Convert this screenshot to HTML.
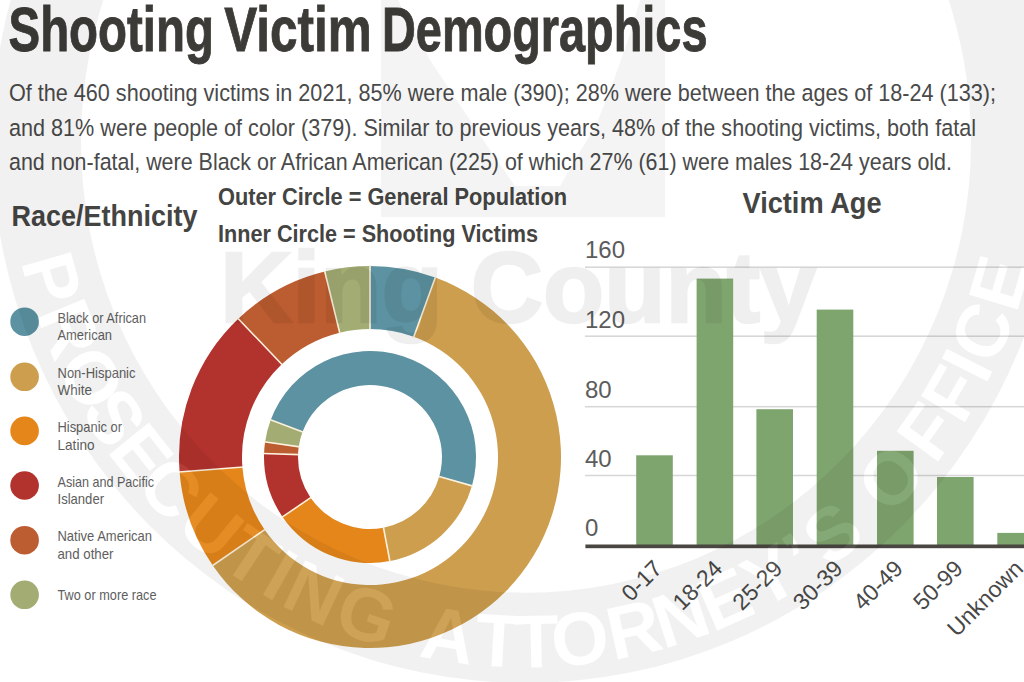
<!DOCTYPE html>
<html><head><meta charset="utf-8"><style>
html,body{margin:0;padding:0;background:#fff;width:1024px;height:682px;overflow:hidden}
svg{display:block}
text{font-family:"Liberation Sans",sans-serif}
.t{font-weight:bold;fill:#3c3b38;stroke:#3c3b38;stroke-width:0.9px}
.p{fill:#4a4a4a;font-size:24.5px}
.h{font-weight:bold;fill:#444442}
.ax{fill:#5c5c5c;font-size:24px}
.xl{fill:#484848;font-size:23px}
.lg{fill:#5e5e5e;font-size:14.6px}
</style></head><body>
<svg width="1024" height="682" viewBox="0 0 1024 682">
<rect width="1024" height="682" fill="#fff"/>
<text x="8.5" y="51" class="t" font-size="63" textLength="205.5" lengthAdjust="spacingAndGlyphs">Shooting</text><text x="224.2" y="51" class="t" font-size="63" textLength="147.5" lengthAdjust="spacingAndGlyphs">Victim</text><text x="382" y="51" class="t" font-size="63" textLength="325.5" lengthAdjust="spacingAndGlyphs">Demographics</text>
<text x="9" y="101" class="p" textLength="987" lengthAdjust="spacingAndGlyphs">Of the 460 shooting victims in 2021, 85% were male (390); 28% were between the ages of 18-24 (133);</text>
<text x="9" y="136" class="p" textLength="967" lengthAdjust="spacingAndGlyphs">and 81% were people of color (379).  Similar to previous years, 48% of the shooting victims, both fatal</text>
<text x="9" y="170" class="p" textLength="943" lengthAdjust="spacingAndGlyphs">and non-fatal, were Black or African American (225) of which 27% (61) were males 18-24 years old.</text>
<text x="11.5" y="225.5" class="h" font-size="29.5" textLength="186" lengthAdjust="spacingAndGlyphs">Race/Ethnicity</text>
<text x="218" y="204.8" class="h" font-size="23.3" textLength="349" lengthAdjust="spacingAndGlyphs">Outer Circle = General Population</text>
<text x="218" y="242.2" class="h" font-size="23.3" textLength="320" lengthAdjust="spacingAndGlyphs">Inner Circle = Shooting Victims</text>
<text x="742.5" y="212.5" class="h" font-size="29.5" textLength="139" lengthAdjust="spacingAndGlyphs">Victim Age</text>
<circle cx="24.6" cy="321.7" r="14.3" fill="#5c92a1"/><text x="57.5" y="322.9" class="lg" textLength="88.5" lengthAdjust="spacingAndGlyphs">Black or African</text><text x="57.5" y="340.3" class="lg" textLength="54.5" lengthAdjust="spacingAndGlyphs">American</text><circle cx="24.6" cy="376.8" r="14.3" fill="#cc9e4e"/><text x="57.5" y="378.0" class="lg" textLength="78" lengthAdjust="spacingAndGlyphs">Non-Hispanic</text><text x="57.5" y="395.4" class="lg" textLength="34.5" lengthAdjust="spacingAndGlyphs">White</text><circle cx="24.6" cy="430.9" r="14.3" fill="#e4861a"/><text x="57.5" y="432.1" class="lg" textLength="64.5" lengthAdjust="spacingAndGlyphs">Hispanic or</text><text x="57.5" y="449.5" class="lg" textLength="37" lengthAdjust="spacingAndGlyphs">Latino</text><circle cx="24.6" cy="485.5" r="14.3" fill="#b2322d"/><text x="57.5" y="486.7" class="lg" textLength="96.5" lengthAdjust="spacingAndGlyphs">Asian and Pacific</text><text x="57.5" y="504.1" class="lg" textLength="46.5" lengthAdjust="spacingAndGlyphs">Islander</text><circle cx="24.6" cy="540.2" r="14.3" fill="#bc5c31"/><text x="57.5" y="541.4" class="lg" textLength="94.5" lengthAdjust="spacingAndGlyphs">Native American</text><text x="57.5" y="558.8" class="lg" textLength="56" lengthAdjust="spacingAndGlyphs">and other</text><circle cx="24.6" cy="594.8" r="14.3" fill="#a3ac73"/><text x="57.5" y="600.1" class="lg" textLength="99" lengthAdjust="spacingAndGlyphs">Two or more race</text>
<path d="M370.00,266.00 A191,191 0 0 1 435.33,277.52 L413.78,336.72 A128,128 0 0 0 370.00,329.00 Z" fill="#5c92a1"/><path d="M435.33,277.52 A191,191 0 1 1 212.78,565.46 L264.64,529.68 A128,128 0 1 0 413.78,336.72 Z" fill="#cc9e4e"/><path d="M212.78,565.46 A191,191 0 0 1 179.59,471.99 L242.39,467.04 A128,128 0 0 0 264.64,529.68 Z" fill="#e4861a"/><path d="M179.59,471.99 A191,191 0 0 1 238.28,318.68 L281.73,364.31 A128,128 0 0 0 242.39,467.04 Z" fill="#b2322d"/><path d="M238.28,318.68 A191,191 0 0 1 324.76,271.43 L339.68,332.64 A128,128 0 0 0 281.73,364.31 Z" fill="#bc5c31"/><path d="M324.76,271.43 A191,191 0 0 1 370.00,266.00 L370.00,329.00 A128,128 0 0 0 339.68,332.64 Z" fill="#a3ac73"/><path d="M270.71,419.88 A106,106 0 0 1 472.00,485.86 L439.28,476.60 A72,72 0 0 0 302.56,431.79 Z" fill="#5c92a1"/><path d="M472.00,485.86 A106,106 0 0 1 389.86,561.12 L383.49,527.72 A72,72 0 0 0 439.28,476.60 Z" fill="#cc9e4e"/><path d="M389.86,561.12 A106,106 0 0 1 282.54,516.89 L310.59,497.68 A72,72 0 0 0 383.49,527.72 Z" fill="#e4861a"/><path d="M282.54,516.89 A106,106 0 0 1 264.06,453.49 L298.04,454.61 A72,72 0 0 0 310.59,497.68 Z" fill="#b2322d"/><path d="M264.06,453.49 A106,106 0 0 1 265.08,441.88 L298.74,446.73 A72,72 0 0 0 298.04,454.61 Z" fill="#bc5c31"/><path d="M265.08,441.88 A106,106 0 0 1 270.71,419.88 L302.56,431.79 A72,72 0 0 0 298.74,446.73 Z" fill="#a3ac73"/>
<g stroke="#fbf1dc" stroke-width="1.6"><line x1="370.00" y1="265.00" x2="370.00" y2="330.00"/><line x1="435.67" y1="276.58" x2="413.44" y2="337.66"/><line x1="211.96" y1="566.03" x2="265.46" y2="529.12"/><line x1="178.59" y1="472.06" x2="243.39" y2="466.96"/><line x1="237.59" y1="317.96" x2="282.42" y2="365.03"/><line x1="324.53" y1="270.46" x2="339.92" y2="333.61"/><line x1="269.78" y1="419.53" x2="303.50" y2="432.14"/><line x1="472.96" y1="486.13" x2="438.32" y2="476.33"/><line x1="390.05" y1="562.10" x2="383.30" y2="526.74"/><line x1="281.71" y1="517.45" x2="311.42" y2="497.11"/><line x1="263.06" y1="453.45" x2="299.04" y2="454.65"/><line x1="264.09" y1="441.74" x2="299.73" y2="446.87"/></g>
<rect x="585" y="266.45" width="439" height="1.5" fill="#d6d6d6"/><rect x="585" y="335.45" width="439" height="1.5" fill="#d6d6d6"/><rect x="585" y="405.95" width="439" height="1.5" fill="#d6d6d6"/><rect x="585" y="474.75" width="439" height="1.5" fill="#d6d6d6"/>
<text x="585" y="258.4" class="ax">160</text><text x="585" y="327.5" class="ax">120</text><text x="585" y="398" class="ax">80</text><text x="585" y="467" class="ax">40</text><text x="585" y="536" class="ax">0</text>
<rect x="636.2" y="455.3" width="36.6" height="90.19999999999999" fill="#7fa56f"/><rect x="696.6" y="278.6" width="36.6" height="266.9" fill="#7fa56f"/><rect x="756.4" y="409.2" width="36.6" height="136.3" fill="#7fa56f"/><rect x="816.7" y="309.6" width="36.6" height="235.89999999999998" fill="#7fa56f"/><rect x="877" y="450.8" width="36.6" height="94.69999999999999" fill="#7fa56f"/><rect x="937" y="477" width="36.6" height="68.5" fill="#7fa56f"/><rect x="997.3" y="532.9" width="36.6" height="12.600000000000023" fill="#7fa56f"/>
<rect x="585.4" y="544.5" width="439" height="3.7" fill="#4a4641"/>
<text transform="translate(663.5,570) rotate(-45)" text-anchor="end" class="xl">0-17</text><text transform="translate(723.9,570) rotate(-45)" text-anchor="end" class="xl">18-24</text><text transform="translate(783.7,570) rotate(-45)" text-anchor="end" class="xl">25-29</text><text transform="translate(844.0,570) rotate(-45)" text-anchor="end" class="xl">30-39</text><text transform="translate(904.3,570) rotate(-45)" text-anchor="end" class="xl">40-49</text><text transform="translate(964.3,570) rotate(-45)" text-anchor="end" class="xl">50-99</text><text transform="translate(1024.6,570) rotate(-45)" text-anchor="end" class="xl">Unknown</text>
<defs>
<mask id="bm" maskUnits="userSpaceOnUse" x="0" y="0" width="1024" height="682"><rect width="1024" height="682" fill="#fff"/><g fill="#000"><g font-family="Liberation Sans" font-weight="bold" font-size="74"><text transform="translate(52.8,276.2) rotate(74.1)" y="26.6" text-anchor="middle">P</text><text transform="translate(69.9,325.9) rotate(68.0)" y="26.6" text-anchor="middle">R</text><text transform="translate(92.6,374.3) rotate(61.8)" y="26.6" text-anchor="middle">O</text><text transform="translate(115.6,412.9) rotate(56.5)" y="26.6" text-anchor="middle">S</text><text transform="translate(142.1,449.2) rotate(51.3)" y="26.6" text-anchor="middle">E</text><text transform="translate(171.7,482.9) rotate(46.1)" y="26.6" text-anchor="middle">C</text><text transform="translate(212.1,520.3) rotate(39.7)" y="26.6" text-anchor="middle">U</text><text transform="translate(252.1,550.2) rotate(33.8)" y="26.6" text-anchor="middle">T</text><text transform="translate(280.9,568.1) rotate(29.9)" y="26.6" text-anchor="middle">I</text><text transform="translate(314.6,585.8) rotate(25.4)" y="26.6" text-anchor="middle">N</text><text transform="translate(367.2,607.2) rotate(18.8)" y="26.6" text-anchor="middle">G</text><text transform="translate(448.5,627.4) rotate(9.1)" y="26.6" text-anchor="middle">A</text><text transform="translate(498.3,632.7) rotate(3.2)" y="26.6" text-anchor="middle">T</text><text transform="translate(536.1,633.4) rotate(-1.2)" y="26.6" text-anchor="middle">T</text><text transform="translate(579.7,630.6) rotate(-6.3)" y="26.6" text-anchor="middle">O</text><text transform="translate(633.4,621.6) rotate(-12.6)" y="26.6" text-anchor="middle">R</text><text transform="translate(680.2,608.7) rotate(-18.3)" y="26.6" text-anchor="middle">N</text><text transform="translate(724.7,591.6) rotate(-23.8)" y="26.6" text-anchor="middle">E</text><text transform="translate(769.6,568.9) rotate(-29.7)" y="26.6" text-anchor="middle">Y</text><text transform="translate(799.4,550.5) rotate(-33.8)" y="26.6" text-anchor="middle">’</text><text transform="translate(831.9,526.9) rotate(-38.4)" y="26.6" text-anchor="middle">S</text><text transform="translate(890.0,472.5) rotate(-47.7)" y="26.6" text-anchor="middle">O</text><text transform="translate(926.6,427.1) rotate(-54.5)" y="26.6" text-anchor="middle">F</text><text transform="translate(950.9,389.6) rotate(-59.7)" y="26.6" text-anchor="middle">F</text><text transform="translate(966.0,361.6) rotate(-63.4)" y="26.6" text-anchor="middle">I</text><text transform="translate(981.0,328.7) rotate(-67.6)" y="26.6" text-anchor="middle">C</text><text transform="translate(997.9,280.8) rotate(-73.6)" y="26.6" text-anchor="middle">E</text></g></g></mask></defs>
<g transform="translate(526,141.5) scale(1,1.014) translate(-526,-141.5)"><path d="M-8,141.5 A534,534 0 1 0 1060,141.5 A534,534 0 1 0 -8,141.5 Z M81,141.5 A445,445 0 1 1 971,141.5 A445,445 0 1 1 81,141.5 Z" fill="#000" fill-opacity="0.055" fill-rule="evenodd" mask="url(#bm)"/>
<g fill="#fff" fill-opacity="0.05"><g font-family="Liberation Sans" font-weight="bold" font-size="74"><text transform="translate(52.8,276.2) rotate(74.1)" y="26.6" text-anchor="middle">P</text><text transform="translate(69.9,325.9) rotate(68.0)" y="26.6" text-anchor="middle">R</text><text transform="translate(92.6,374.3) rotate(61.8)" y="26.6" text-anchor="middle">O</text><text transform="translate(115.6,412.9) rotate(56.5)" y="26.6" text-anchor="middle">S</text><text transform="translate(142.1,449.2) rotate(51.3)" y="26.6" text-anchor="middle">E</text><text transform="translate(171.7,482.9) rotate(46.1)" y="26.6" text-anchor="middle">C</text><text transform="translate(212.1,520.3) rotate(39.7)" y="26.6" text-anchor="middle">U</text><text transform="translate(252.1,550.2) rotate(33.8)" y="26.6" text-anchor="middle">T</text><text transform="translate(280.9,568.1) rotate(29.9)" y="26.6" text-anchor="middle">I</text><text transform="translate(314.6,585.8) rotate(25.4)" y="26.6" text-anchor="middle">N</text><text transform="translate(367.2,607.2) rotate(18.8)" y="26.6" text-anchor="middle">G</text><text transform="translate(448.5,627.4) rotate(9.1)" y="26.6" text-anchor="middle">A</text><text transform="translate(498.3,632.7) rotate(3.2)" y="26.6" text-anchor="middle">T</text><text transform="translate(536.1,633.4) rotate(-1.2)" y="26.6" text-anchor="middle">T</text><text transform="translate(579.7,630.6) rotate(-6.3)" y="26.6" text-anchor="middle">O</text><text transform="translate(633.4,621.6) rotate(-12.6)" y="26.6" text-anchor="middle">R</text><text transform="translate(680.2,608.7) rotate(-18.3)" y="26.6" text-anchor="middle">N</text><text transform="translate(724.7,591.6) rotate(-23.8)" y="26.6" text-anchor="middle">E</text><text transform="translate(769.6,568.9) rotate(-29.7)" y="26.6" text-anchor="middle">Y</text><text transform="translate(799.4,550.5) rotate(-33.8)" y="26.6" text-anchor="middle">’</text><text transform="translate(831.9,526.9) rotate(-38.4)" y="26.6" text-anchor="middle">S</text><text transform="translate(890.0,472.5) rotate(-47.7)" y="26.6" text-anchor="middle">O</text><text transform="translate(926.6,427.1) rotate(-54.5)" y="26.6" text-anchor="middle">F</text><text transform="translate(950.9,389.6) rotate(-59.7)" y="26.6" text-anchor="middle">F</text><text transform="translate(966.0,361.6) rotate(-63.4)" y="26.6" text-anchor="middle">I</text><text transform="translate(981.0,328.7) rotate(-67.6)" y="26.6" text-anchor="middle">C</text><text transform="translate(997.9,280.8) rotate(-73.6)" y="26.6" text-anchor="middle">E</text></g></g></g>
<g opacity="0.058"><text x="220" y="322" font-family="Liberation Sans" font-weight="bold" font-size="101" fill="#000" stroke="#000" stroke-width="2.5" textLength="596" lengthAdjust="spacingAndGlyphs">King County</text></g>
<path d="M381,0 H665 V217 H381 Z M398,0 L640,0 L628,40 L612,85 L596,125 L572,165 L560,186 L515,186 L490,150 L460,105 L430,60 Z" fill="#000" fill-opacity="0.045" fill-rule="evenodd"/>

</svg>
</body></html>
